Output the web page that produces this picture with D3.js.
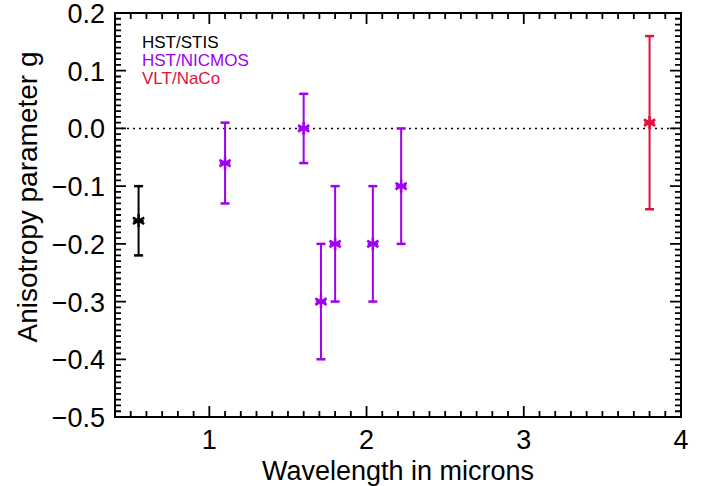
<!DOCTYPE html>
<html><head><meta charset="utf-8">
<script src="https://cdn.jsdelivr.net/npm/d3@7"></script>
<style>body{margin:0;background:#fff}svg{display:block}text{font-family:"Liberation Sans",Arial,Helvetica,sans-serif}</style>
</head><body><svg id="c" width="711" height="486"></svg>
<script>
const instruments = ["HST/STIS","HST/NICMOS","VLT/NaCo"];
const instColors = ["#000000","#a000f0","#e0103c"];
const wavelength = [0.55, 1.1, 1.6, 1.71, 1.8, 2.04, 2.22, 3.8];
const gValue     = [-0.16, -0.06, 0.0, -0.30, -0.20, -0.20, -0.10, 0.01];
const gError     = [0.06, 0.07, 0.06, 0.10, 0.10, 0.10, 0.10, 0.15];
const pointInst  = [0, 1, 1, 1, 1, 1, 1, 2];
const xTicks = [1, 2, 3, 4];
const yTicks = [0.2, 0.1, 0.0, -0.1, -0.2, -0.3, -0.4, -0.5];

const svg = d3.select("#c");
const L=115, R=681, T=13, B=417;
const x = d3.scaleLinear().domain([0.4, 4]).range([L, R]);
const y = d3.scaleLinear().domain([-0.5, 0.2]).range([B, T]);

const g = svg.append("g");
const xMinorAll = d3.range(5, 40).map(v => v/10);
const yMinorAll = d3.range(-49, 20).map(v => v/100);
const MJ = 11, MN = 6;

// tick marks on all four sides, built as one path
const p = d3.path();
xMinorAll.forEach(v => {
  const len = Math.abs(v - Math.round(v)) < 1e-6 ? MJ : MN;
  const xx = x(v);
  p.moveTo(xx, B); p.lineTo(xx, B - len);
  p.moveTo(xx, T); p.lineTo(xx, T + len);
});
yMinorAll.forEach(v => {
  const len = Math.abs(v*10 - Math.round(v*10)) < 1e-6 ? MJ : MN;
  const yy = y(v);
  p.moveTo(L, yy); p.lineTo(L + len, yy);
  p.moveTo(R, yy); p.lineTo(R - len, yy);
});
svg.append("path").attr("d", p.toString()).attr("fill","none")
  .attr("stroke","#000").attr("stroke-width",1.8);

// frame
svg.append("rect").attr("x",L).attr("y",T).attr("width",R-L).attr("height",B-T)
  .attr("fill","none").attr("stroke","#000").attr("stroke-width",2);

// tick labels
const fmt = v => (v < 0 ? "\u2212" : "") + Math.abs(v).toFixed(1);
g.selectAll(".yl").data(yTicks).enter().append("text")
  .attr("x", L-10).attr("y", d => y(d)).attr("dy","0.37em")
  .attr("text-anchor","end").attr("font-size",27).text(fmt);
g.selectAll(".xl").data(xTicks).enter().append("text")
  .attr("x", d => x(d)).attr("y", 449).attr("text-anchor","middle")
  .attr("font-size",27).text(d => d);

g.append("text").attr("x", (L+R)/2).attr("y", 479.5).attr("text-anchor","middle")
  .attr("font-size",27).text("Wavelength in microns");
g.append("text").attr("transform",`translate(37,197) rotate(-90)`)
  .attr("text-anchor","middle").attr("font-size",28).text("Anisotropy parameter g");

// zero dotted line
g.append("line").attr("x1",L).attr("x2",R).attr("y1",y(0)).attr("y2",y(0))
  .attr("stroke","#000").attr("stroke-width",1.5).attr("stroke-dasharray","2,4");

// error bars
const pts = wavelength.map((w,i)=>({w, v:gValue[i], e:gError[i], c:instColors[pointInst[i]]}));
const eb = g.selectAll(".eb").data(pts).enter().append("g");
eb.append("line").attr("x1",d=>x(d.w)).attr("x2",d=>x(d.w))
  .attr("y1",d=>y(d.v-d.e)).attr("y2",d=>y(d.v+d.e))
  .attr("stroke",d=>d.c).attr("stroke-width",2);
[-1,1].forEach(s=>{
  eb.append("line").attr("x1",d=>x(d.w)-4.5).attr("x2",d=>x(d.w)+4.5)
    .attr("y1",d=>y(d.v+s*d.e)).attr("y2",d=>y(d.v+s*d.e))
    .attr("stroke",d=>d.c).attr("stroke-width",2.5);
});
// asterisk markers
const sz = 6.5;
eb.each(function(d){
  const gg = d3.select(this), cx = x(d.w), cy = y(d.v);
  [[0,1],[0.866,0.5],[0.866,-0.5]].forEach(([a,b])=>{
    gg.append("line").attr("x1",cx-a*sz).attr("x2",cx+a*sz)
      .attr("y1",cy-b*sz).attr("y2",cy+b*sz)
      .attr("stroke",d.c).attr("stroke-width",2.5);
  });
  gg.append("line").attr("x1",cx-sz*0.8).attr("x2",cx+sz*0.8).attr("y1",cy).attr("y2",cy)
    .attr("stroke",d.c).attr("stroke-width",2.5);
});

// legend
g.selectAll(".lg").data(instruments).enter().append("text")
  .attr("x",142).attr("y",(d,i)=>48+i*18).attr("font-size",17)
  .attr("fill",(d,i)=>instColors[i]).text(d=>d);
</script></body></html>
